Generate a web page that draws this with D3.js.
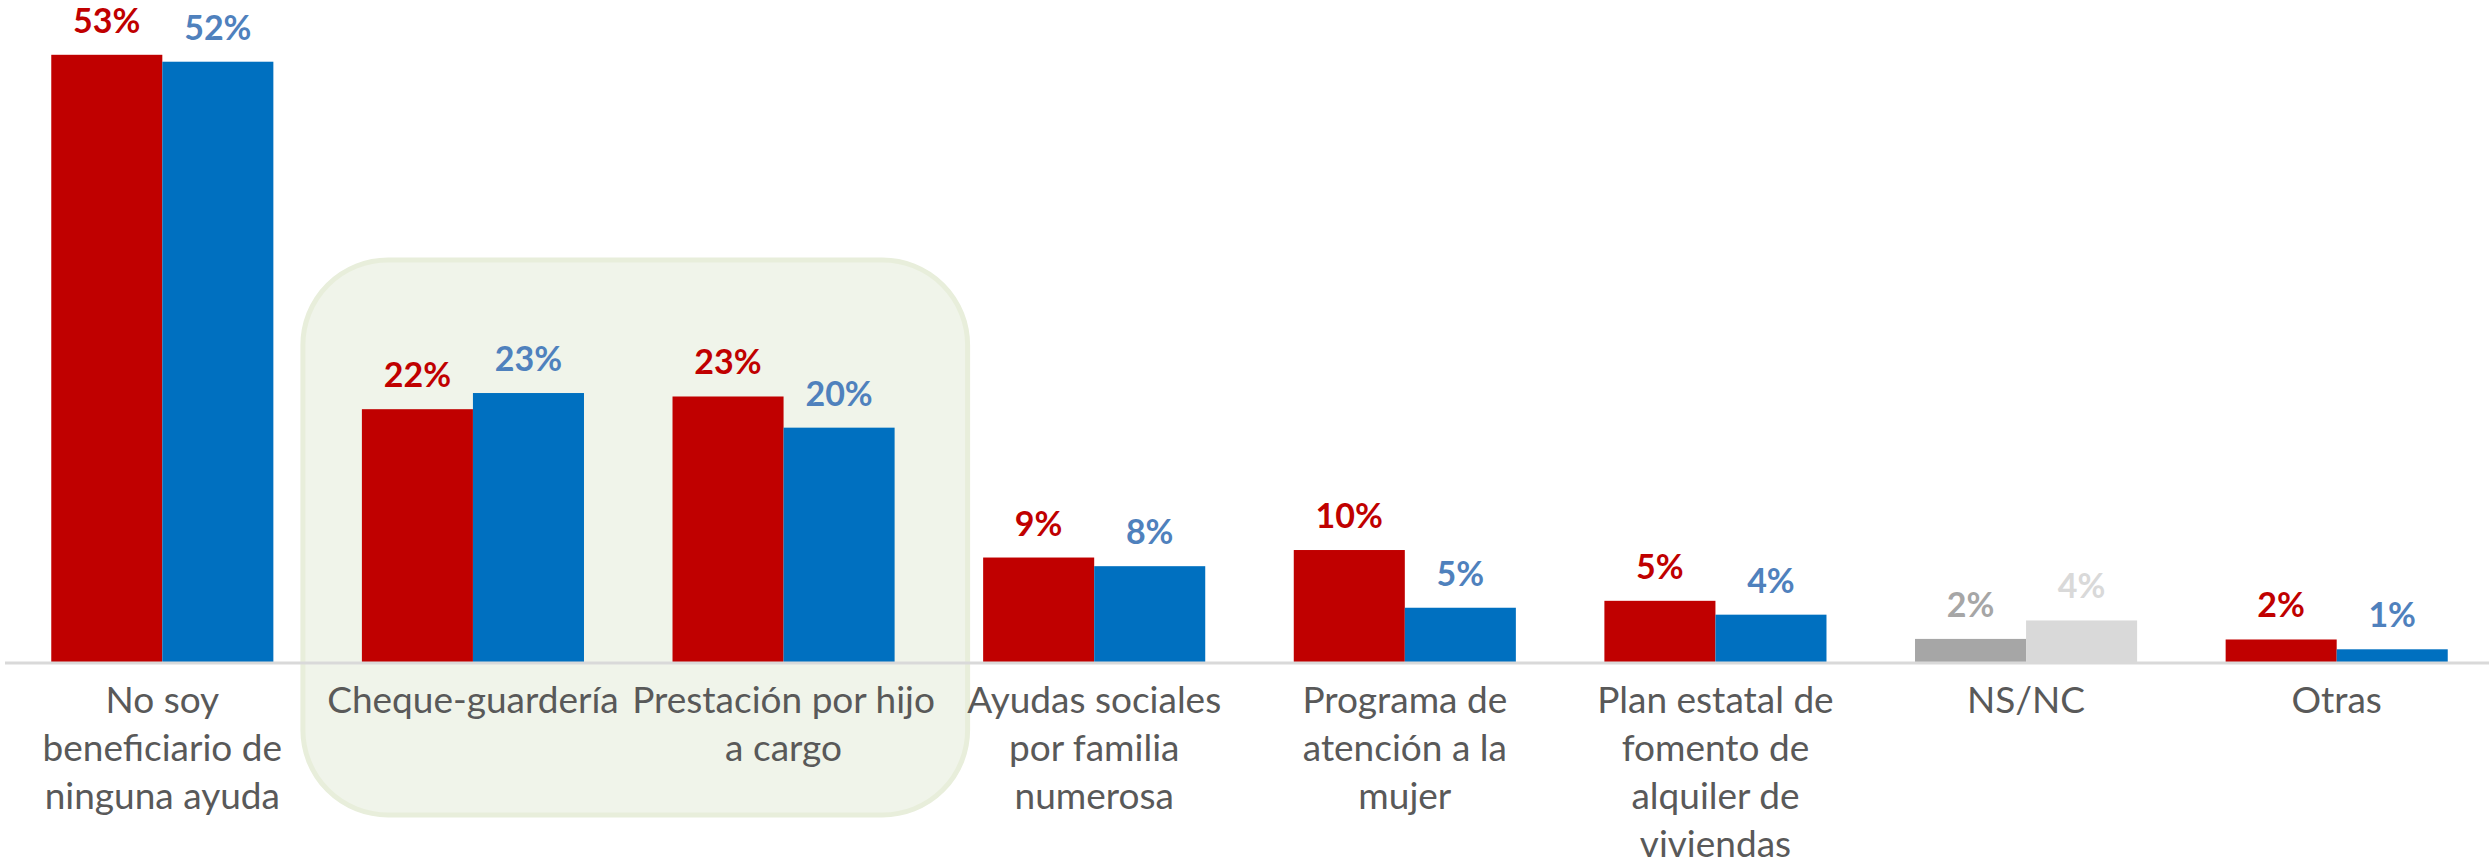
<!DOCTYPE html>
<html>
<head>
<meta charset="utf-8">
<script src="https://cdn.jsdelivr.net/npm/d3@7"></script>
<style>
  body { margin: 0; background: #fff; }
  svg { display: block; }
</style>
</head>
<body>
<svg id="chart" width="2489" height="865"></svg>
<script>
// categories, one entry per line of the axis label
var categories = [
  ["No soy", "beneficiario de", "ninguna ayuda"],
  ["Cheque-guardería"],
  ["Prestación por hijo", "a cargo"],
  ["Ayudas sociales", "por familia", "numerosa"],
  ["Programa de", "atención a la", "mujer"],
  ["Plan estatal de", "fomento de", "alquiler de", "viviendas"],
  ["NS/NC"],
  ["Otras"]
];
// two series (percent)
var serieA = [52.6, 21.9, 23.0, 9.05, 9.7, 5.3, 2.0, 1.95];
var serieB = [52.0, 23.3, 20.3, 8.3, 4.7, 4.1, 3.6, 1.1];
// categories framed by the highlight box
var highlighted = [1, 2];

var W = 2489, H = 865;
var baseY = 662;

var svg = d3.select("#chart");

var x = d3.scaleBand()
  .domain(d3.range(categories.length))
  .range([7, 2492])
  .paddingInner(0.285)
  .paddingOuter(0.1425);

var xSub = d3.scaleBand()
  .domain(["A", "B"])
  .range([0, x.bandwidth()]);

var y = d3.scaleLinear()
  .domain([0, 57])
  .range([baseY, 4]);

var fmt = d3.format(".0f");

// colour of each bar / label (NS/NC drawn in greys)
function barColor(i, s) {
  if (i === 6) return s === "A" ? "#A6A6A6" : "#D9D9D9";
  return s === "A" ? "#C00000" : "#0070C0";
}
function labelColor(i, s) {
  if (i === 6) return s === "A" ? "#A6A6A6" : "#D9D9D9";
  return s === "A" ? "#C00000" : "#4F81BD";
}

// highlight box behind Cheque-guardería / Prestación
var hx0 = x(highlighted[0]) - 59;
var hx1 = x(highlighted[highlighted.length - 1]) + x.bandwidth() + 73;
svg.append("rect")
  .attr("x", hx0)
  .attr("y", 260)
  .attr("width", hx1 - hx0)
  .attr("height", 555)
  .attr("rx", 85)
  .attr("fill", "#F0F4EA")
  .attr("stroke", "#E8EEDB")
  .attr("stroke-width", 5);

var rows = categories.map(function(c, i) {
  return [
    { i: i, s: "A", v: serieA[i] },
    { i: i, s: "B", v: serieB[i] }
  ];
});

var groups = svg.selectAll("g.grp")
  .data(rows)
  .join("g")
  .attr("class", "grp")
  .attr("transform", function(d, i) { return "translate(" + x(i) + ",0)"; });

groups.selectAll("rect")
  .data(function(d) { return d; })
  .join("rect")
  .attr("x", function(d) { return xSub(d.s); })
  .attr("width", xSub.bandwidth())
  .attr("y", function(d) { return y(d.v); })
  .attr("height", function(d) { return baseY - y(d.v); })
  .attr("fill", function(d) { return barColor(d.i, d.s); });

groups.selectAll("text.val")
  .data(function(d) { return d; })
  .join("text")
  .attr("class", "val")
  .attr("x", function(d) { return xSub(d.s) + xSub.bandwidth() / 2; })
  .attr("y", function(d) { return y(d.v) - 22; })
  .attr("text-anchor", "middle")
  .attr("font-family", "Lato, 'Open Sans', sans-serif")
  .attr("font-weight", "bold")
  .attr("font-size", 34)
  .attr("fill", function(d) { return labelColor(d.i, d.s); })
  .text(function(d) { return fmt(d.v) + "%"; });

// axis line
svg.append("line")
  .attr("x1", 5)
  .attr("x2", W)
  .attr("y1", baseY + 1)
  .attr("y2", baseY + 1)
  .attr("stroke", "#D9D9D9")
  .attr("stroke-width", 3);

// category labels
var cat = svg.append("g")
  .attr("font-family", "Lato, 'Open Sans', sans-serif")
  .attr("font-size", 37)
  .attr("fill", "#595959")
  .attr("text-anchor", "middle");

cat.selectAll("text")
  .data(categories)
  .join("text")
  .attr("x", function(d, i) { return x(i) + x.bandwidth() / 2; })
  .attr("y", 713)
  .selectAll("tspan")
  .data(function(d) { return d; })
  .join("tspan")
  .attr("x", function() { return d3.select(this.parentNode).attr("x"); })
  .attr("dy", function(d, j) { return j === 0 ? 0 : 48; })
  .text(function(d) { return d; });
</script>
</body>
</html>
